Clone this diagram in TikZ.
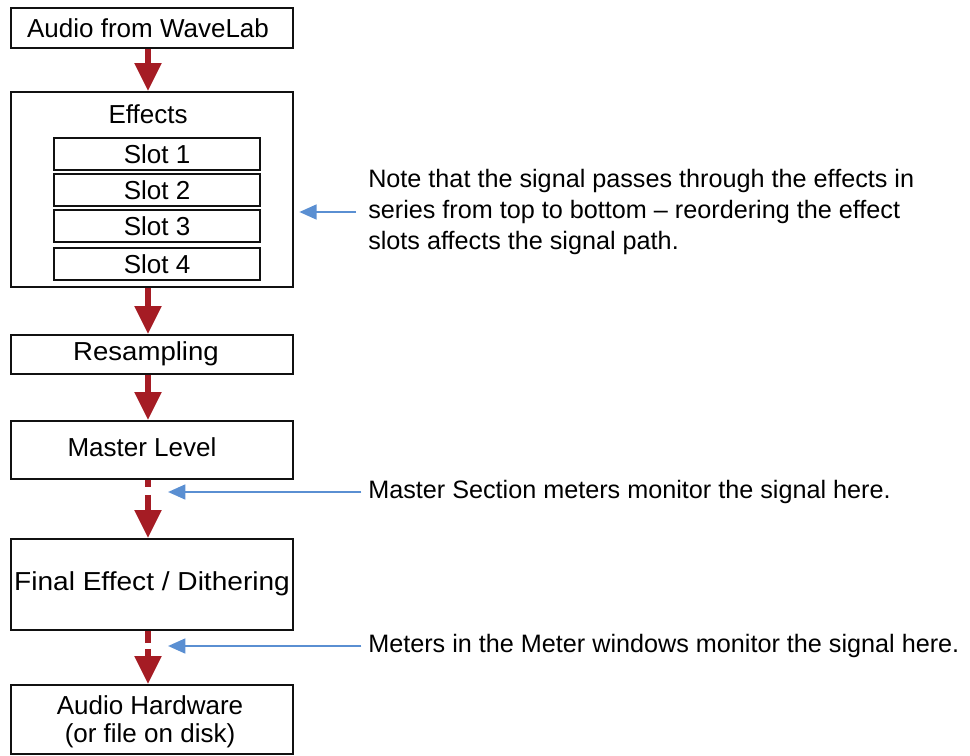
\documentclass[tikz,border=0pt]{standalone}
\usepackage{fontspec}
\setmainfont{Liberation Sans}
\usetikzlibrary{arrows.meta, positioning}
\definecolor{FlowRed}{HTML}{A51C24}
\definecolor{NoteBlue}{HTML}{5A8FD2}
\definecolor{FrameBlack}{HTML}{111111}

\begin{document}
\begin{tikzpicture}[
            x=0.75pt, y=-0.75pt,
            stage/.style = {rectangle, draw=FrameBlack, line width=1.4pt, minimum width=211.5pt, inner sep=0pt, align=center, font=\fontsize{19.5}{21}\selectfont},
            caption/.style = {inner sep=0pt, align=center, font=\fontsize{19.5}{21}\selectfont},
            slot/.style = {rectangle, draw=FrameBlack, line width=1.4pt, minimum width=154.5pt, minimum height=24pt, inner sep=0pt, font=\fontsize{19.5}{21}\selectfont},
            note/.style = {anchor=west, align=left, inner sep=0pt, font=\fontsize{18.9}{23.25}\selectfont},
            flow/.style = {draw=FlowRed, line width=4pt, -{Triangle[width=19.5pt, length=21pt]}, FlowRed},
            pointer/.style = {draw=NoteBlue, line width=2pt, -{Triangle[width=11pt, length=13pt]}}
        ]
            \useasboundingbox (0,0) rectangle (970,756);

            \node [stage, minimum height=30pt] (src) at (152,28) {};
            \node [caption] (srclbl) at (148,28) {Audio from WaveLab};
            \node [stage, minimum height=146.25pt] (effects) at (152,189.5) {};
            \node [caption] (effectslbl) at (148,114) {Effects};
            \node [slot] (slot1) at (157,154) {Slot 1};
            \node [slot] (slot2) at (157,190) {Slot 2};
            \node [slot] (slot3) at (157,226) {Slot 3};
            \node [slot] (slot4) at (157,264) {Slot 4};
            \node [stage, minimum height=29.25pt] (resample) at (152,354.5) {};
            \node [caption, xscale=1.06] (resamplelbl) at (146,354) {Resampling};
            \node [stage, minimum height=43.5pt] (master) at (152,450) {};
            \node [caption] (masterlbl) at (142,447) {Master Level};
            \node [stage, minimum height=68.25pt] (final) at (152,584.5) {};
            \node [caption, xscale=1.08] (finallbl) at (152,584) {Final Effect / Dithering};
            \node [stage, minimum height=51.75pt] (hw) at (152,719.5) {};
            \node [caption] (hwlbl) at (150,722) {Audio Hardware\\(or file on disk)};

            % signal path
            \coordinate (tapA) at (148,492);
            \coordinate (tapB) at (148,646);
            \draw [flow] ([xshift=-3pt]src.south) -- ([xshift=-3pt]effects.north);
            \draw [flow] ([xshift=-3pt]effects.south) -- ([xshift=-3pt]resample.north);
            \draw [flow] ([xshift=-3pt]resample.south) -- ([xshift=-3pt]master.north);
            \draw [flow, dash pattern=on 5.25pt off 6pt on 40pt] ([xshift=-3pt]master.south) -- ([xshift=-3pt]final.north);
            \draw [flow, dash pattern=on 9pt off 4.5pt on 40pt] ([xshift=-3pt]final.south) -- ([xshift=-3pt]hw.north);

            % notes
            \node [note] (noteA) at (368,212) {Note that the signal passes through the effects in\\series from top to bottom -- reordering the effect\\slots affects the signal path.};
            \node [note] (noteB) at (368,492) {Master Section meters monitor the signal here.};
            \node [note] (noteC) at (368,646) {Meters in the Meter windows monitor the signal here.};

            \draw [pointer] ([xshift=-9pt]noteA.west) -- ([xshift=4pt]effects.east |- noteA.west);
            \draw [pointer] ([xshift=-5pt]noteB.west) -- ([xshift=15pt]tapA);
            \draw [pointer] ([xshift=-5pt]noteC.west) -- ([xshift=15pt]tapB);
        \end{tikzpicture}
\end{document}
